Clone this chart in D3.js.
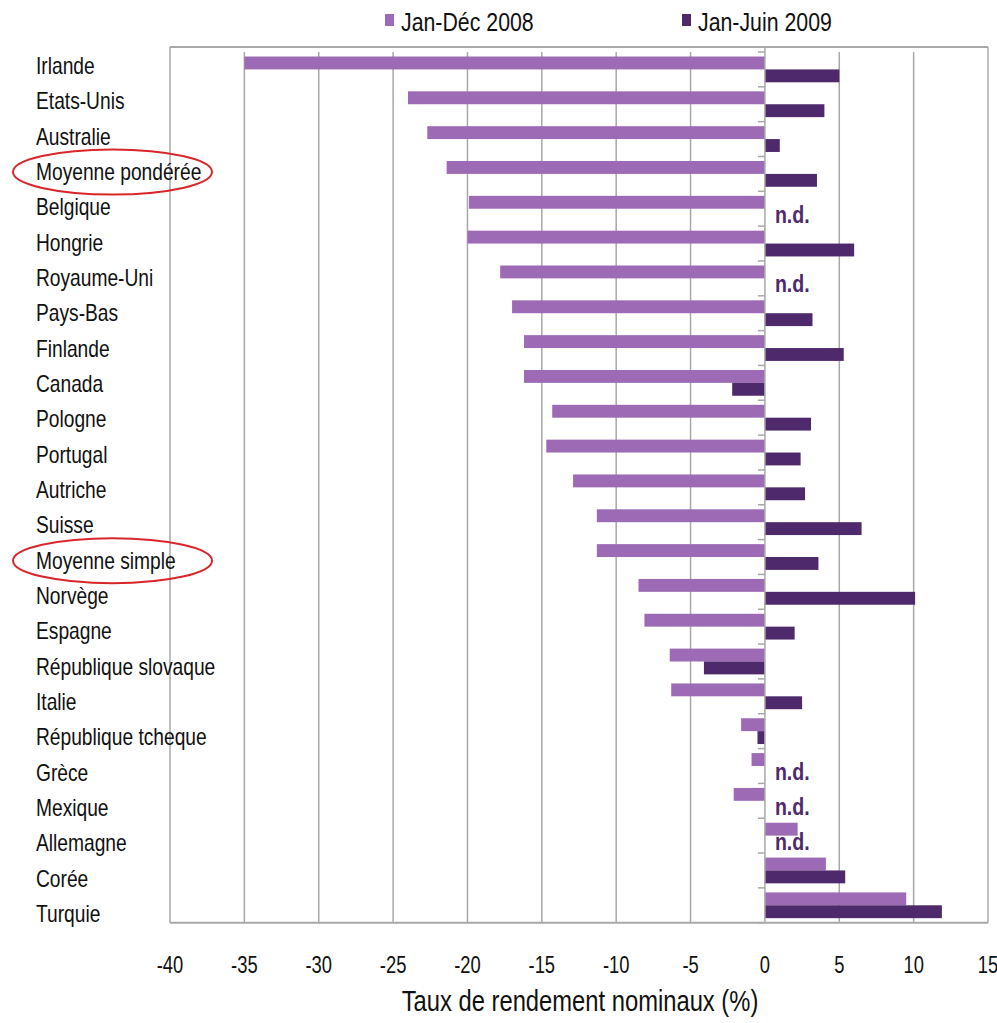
<!DOCTYPE html>
<html>
<head>
<meta charset="utf-8">
<script src="https://cdn.jsdelivr.net/npm/d3@7"></script>
<style>
  html, body { margin: 0; padding: 0; background: #ffffff; }
  svg { display: block; }
  text { font-family: "Liberation Sans", Arial, sans-serif; fill: #111; }
</style>
</head>
<body>
<svg id="chart" width="997" height="1023"></svg>
<script>
// Nominal rates of return of pension funds, by country
const categories = [
  "Irlande", "Etats-Unis", "Australie", "Moyenne pondérée", "Belgique", "Hongrie",
  "Royaume-Uni", "Pays-Bas", "Finlande", "Canada", "Pologne", "Portugal", "Autriche",
  "Suisse", "Moyenne simple", "Norvège", "Espagne", "République slovaque", "Italie",
  "République tcheque", "Grèce", "Mexique", "Allemagne", "Corée", "Turquie"
];
const seriesNames = ["Jan-Déc 2008", "Jan-Juin 2009"];
const values2008 = [-35.0, -24.0, -22.7, -21.4, -19.9, -20.0, -17.8, -17.0, -16.2, -16.2,
  -14.3, -14.7, -12.9, -11.3, -11.3, -8.5, -8.1, -6.4, -6.3, -1.6, -0.9, -2.1, 2.2, 4.1, 9.5];
// null = no data available (n.d.)
const values2009 = [5.0, 4.0, 1.0, 3.5, null, 6.0, null, 3.2, 5.3, -2.2,
  3.1, 2.4, 2.7, 6.5, 3.6, 10.1, 2.0, -4.1, 2.5, -0.5, null, null, null, 5.4, 11.9];
const xTicks = [-40, -35, -30, -25, -20, -15, -10, -5, 0, 5, 10, 15];
const circled = ["Moyenne pondérée", "Moyenne simple"];
const axisTitle = "Taux de rendement nominaux (%)";
const naLabel = "n.d.";

const colors = { "Jan-Déc 2008": "#9d6bb6", "Jan-Juin 2009": "#4e2a6c" };
const gridColor = "#a8a8a8";

const svg = d3.select("#chart");

const plotLeft = 170, plotRight = 988, plotTop = 52, plotBottom = 922.7, frameTop = 47;

const x = d3.scaleLinear().domain([-40, 15]).range([plotLeft, plotRight]);
const pad = 0.26;
const y = d3.scaleBand().domain(categories).range([plotTop, plotBottom])
  .paddingInner(pad).paddingOuter(pad / 2);
const y1 = d3.scaleBand().domain(seriesNames).range([0, y.bandwidth()]);
// baseline positions of the category labels
const yLabel = d3.scalePoint().domain(categories).range([74, 922]);

// condensed text: place at (px, py) and squeeze horizontally
const place = (px, py, sx) => `translate(${px},${py}) scale(${sx},1)`;

const rows = categories.map((c, i) => ({ cat: c, v: [values2008[i], values2009[i]] }));

// Vertical gridlines
svg.append("g").selectAll("line")
  .data(xTicks.filter(t => t > -40 && t < 15 && t !== 0))
  .join("line")
  .attr("x1", d => x(d)).attr("x2", d => x(d))
  .attr("y1", plotTop).attr("y2", plotBottom)
  .attr("stroke", gridColor).attr("stroke-width", 1.5);

// Frame: top, right and left lines
svg.append("line").attr("x1", plotLeft).attr("x2", plotRight).attr("y1", frameTop).attr("y2", frameTop)
  .attr("stroke", gridColor).attr("stroke-width", 2);
svg.append("line").attr("x1", plotRight).attr("x2", plotRight).attr("y1", frameTop).attr("y2", plotBottom)
  .attr("stroke", gridColor).attr("stroke-width", 1.5);
svg.append("line").attr("x1", plotLeft).attr("x2", plotLeft).attr("y1", frameTop).attr("y2", plotBottom)
  .attr("stroke", gridColor).attr("stroke-width", 1.5);

// Bars
const groups = svg.append("g").selectAll("g")
  .data(rows).join("g")
  .attr("transform", d => `translate(0,${y(d.cat)})`);

groups.selectAll("rect")
  .data(d => seriesNames.map((s, j) => ({ s, v: d.v[j] })).filter(e => e.v !== null))
  .join("rect")
  .attr("x", e => x(Math.min(0, e.v)))
  .attr("width", e => Math.abs(x(e.v) - x(0)))
  .attr("y", e => y1(e.s))
  .attr("height", y1.bandwidth())
  .attr("fill", e => colors[e.s]);

// n.d. markers where the 2009 value is missing
groups.filter(d => d.v[1] === null)
  .append("text")
  .attr("transform", place(x(0) + 10, y1(seriesNames[1]) + y1.bandwidth() + 1, 0.85))
  .attr("font-size", 23)
  .attr("font-weight", "bold")
  .style("fill", colors["Jan-Juin 2009"])
  .text(naLabel);

// Category axis at zero with tick marks between categories
svg.append("line").attr("x1", x(0)).attr("x2", x(0)).attr("y1", frameTop).attr("y2", plotBottom)
  .attr("stroke", gridColor).attr("stroke-width", 1.5);
const step = y.step();
svg.append("g").selectAll("line")
  .data(d3.range(categories.length + 1))
  .join("line")
  .attr("x1", x(0) - 7).attr("x2", x(0))
  .attr("y1", i => plotTop + i * step).attr("y2", i => plotTop + i * step)
  .attr("stroke", gridColor).attr("stroke-width", 1.5);

// Bottom axis line
svg.append("line").attr("x1", plotLeft).attr("x2", plotRight).attr("y1", plotBottom).attr("y2", plotBottom)
  .attr("stroke", gridColor).attr("stroke-width", 2);

// X tick labels
svg.append("g").selectAll("text")
  .data(xTicks).join("text")
  .attr("transform", d => place(x(d), 973, 0.75))
  .attr("text-anchor", "middle")
  .attr("font-size", 24.5)
  .text(d => d);

// Axis title
svg.append("text")
  .attr("transform", place(580, 1011, 0.82))
  .attr("text-anchor", "middle")
  .attr("font-size", 29)
  .text(axisTitle);

// Category labels
svg.append("g").selectAll("text")
  .data(categories).join("text")
  .attr("transform", d => place(36, yLabel(d), 0.8))
  .attr("font-size", 24)
  .text(d => d);

// Red ellipses around the averages
svg.append("g").selectAll("ellipse")
  .data(circled).join("ellipse")
  .attr("cx", 112.5)
  .attr("cy", d => yLabel(d) - 8)
  .attr("rx", 99.5).attr("ry", 22.5)
  .attr("fill", "none")
  .attr("stroke", "#d8262b").attr("stroke-width", 2);

// Legend
const legendX = [385, 682];
const legend = svg.append("g").selectAll("g")
  .data(seriesNames).join("g")
  .attr("transform", (d, i) => `translate(${legendX[i]},0)`);
legend.append("rect")
  .attr("x", 0).attr("y", 14).attr("width", 9).attr("height", 12)
  .attr("fill", d => colors[d]);
legend.append("text")
  .attr("transform", place(16, 31, 0.82))
  .attr("font-size", 26)
  .text(d => d);
</script>
</body>
</html>
